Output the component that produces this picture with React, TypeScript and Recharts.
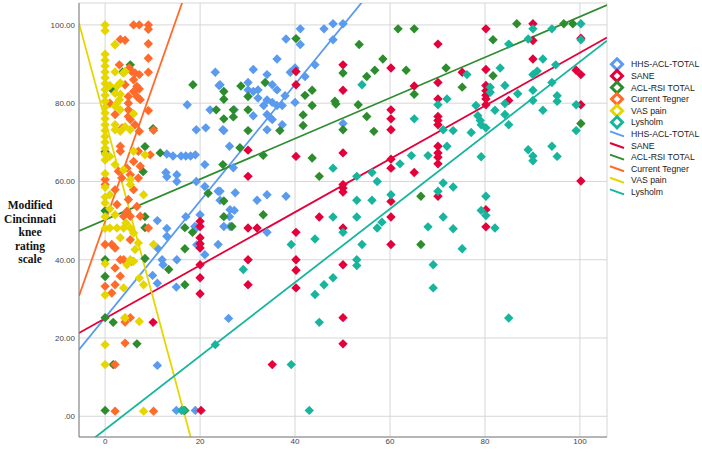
import React from 'react';
import {
  ScatterChart, Scatter, XAxis, YAxis, CartesianGrid, ReferenceLine,
} from 'recharts';

// Series names and colours (markers + fit lines share the colour)
const seriesNames = ['HHS-ACL-TOTAL', 'SANE', 'ACL-RSI TOTAL', 'Current Tegner', 'VAS pain', 'Lysholm'];
const seriesColors = ['#5A9BEF', '#E4003A', '#2D8C2D', '#FF6B2B', '#E6D600', '#17B59E'];

// Linear fit lines: y = intercept + slope * x
const fitIntercepts = [25.2, 25.0, 50.2, 49.7, 75.7, -3.4];
const fitSlopes = [1.49, 0.679, 0.519, 3.45, -4.5, 0.94];

const xTicks = [0, 20, 40, 60, 80, 100];
const yTicks = [0, 20, 40, 60, 80, 100];

// [x, Modified Cincinnati]
const hhs = [
  [11, 13], [15, 1.5], [19, 1.5], [26, 25],
  [11, 50], [13, 48], [17, 51], [11, 43], [13, 46], [12, 40], [12.2, 38.7], [10, 36], [11, 34], [15, 33], [19.3, 48.2], [19.3, 43.8],
  [13, 67], [16, 66.5], [17, 66.5], [18, 66.5], [19, 66.8], [14.3, 66.5], [21, 64.3], [12.8, 62.3], [15.1, 61.7], [15.1, 60], [21, 58.7],
  [23.8, 57.5], [27.4, 57.1], [26.3, 52.8], [20, 51.5], [18.9, 48.5], [23.8, 43.9], [15.1, 40], [21, 41.3], [26.3, 48.5],
  [17.3, 79.6], [19.2, 73.2], [13, 61.2], [19.2, 60],
  [23.2, 87.9], [24, 84.5], [22.1, 78.3], [21.2, 73.7], [25, 73], [26.2, 69],
  [41.1, 99], [46.1, 99], [48, 100.3], [50.1, 100.3], [38.1, 96.4], [41.1, 95], [48, 96.2], [36.2, 91.3], [31.2, 88.6], [40, 89],
  [39, 87.9], [44.2, 89.8], [42.1, 86.8], [34.1, 87.3], [30.1, 85.3], [35.2, 84.7], [24.2, 84.7], [30.1, 83.4], [31.2, 83],
  [32.2, 83.4], [36.2, 83.4], [37.9, 81.9], [32.2, 81.3], [34.1, 80.8], [35.2, 80.2], [36.2, 79.4], [37.3, 79.4], [33.4, 79.4],
  [40, 80.2], [27.2, 78.3], [31.2, 76.8], [34.1, 77.1], [34.8, 76.3], [35.2, 75.8], [37.3, 74.5], [24.8, 73.2], [34.1, 73.2],
  [50.1, 74.8],
  [27, 63.5], [34.1, 56.6], [32, 55.2], [38.1, 56.2], [27.2, 52.6], [26.2, 51], [25, 48.5], [34.1, 47], [24.2, 57.5], [24.2, 55.2],
];

const sane = [
  [10.1, 24], [20.2, 1.5], [20, 49.8], [20, 48.5], [20, 45.6], [20, 44.1], [20, 43], [20, 38.7], [20, 35.4], [20, 31.3],
  [40.2, 88.1], [40.2, 84.7], [50.1, 89.8], [50.1, 83.3], [60.2, 89], [60.2, 78.3], [60.2, 76], [60.2, 73.2], [65.1, 84.4], [30.1, 68],
  [40.2, 66.4], [50.1, 67.3], [30.1, 61.3], [50.1, 59.2], [50.1, 58.3], [50.1, 57.3], [60.2, 65.7], [60.2, 63.4], [65.1, 62.3],
  [60.2, 54.9], [60.2, 50.9], [45.1, 50.9], [30.1, 48.1], [32, 48.1], [40.2, 47], [50.1, 48.1], [60.2, 43.9], [30.1, 40], [40.2, 40],
  [40.2, 37.3], [50.1, 38.7], [30.1, 33.6], [40.2, 32.8],
  [35.2, 13.2], [50.1, 25.2], [50.1, 18.5],
  [80.2, 99], [90.1, 100.3], [90.1, 96], [100.2, 96.6], [70.1, 95.1], [90.1, 91.3], [80.2, 88.6], [75.2, 87.9], [70.1, 85.3],
  [99.2, 88.4], [100.2, 87.3], [80.2, 84.5], [80.2, 83.2], [80.2, 82], [80.2, 81.1], [80.2, 79.6], [70.1, 81.1], [70.1, 76.6],
  [70.1, 75.6], [70.1, 74.5], [85, 80.7], [100.2, 79.6], [70.1, 69],
  [70.1, 67.3], [70.1, 66.2], [70.1, 64.5], [70.1, 56.2], [80.2, 52.8], [80.2, 48.4], [100.2, 60.1],
];

const aclRsi = [
  [0, 1.5], [1.7, 24], [6.7, 18.5], [1.7, 13.2], [16.8, 1.5], [0, 25.2],
  [0, 40], [0, 35.7], [8.4, 51], [8.4, 48.2], [8.4, 40.3], [13.4, 37.5], [16.8, 33.6], [16.8, 48.2], [18.4, 47], [16.8, 42.8],
  [5.3, 89.8], [3.7, 88], [1.7, 83.2], [10.1, 73.5], [8.4, 68.9], [11.6, 67.3], [8, 62.5], [0, 67.6], [18.5, 84.7], [0, 52.5],
  [24.8, 64.3], [21.7, 57], [25, 55], [25, 51], [26.7, 48.5],
  [25, 83], [25, 81], [23.4, 78.3], [27, 78.3], [25, 76],
  [40.2, 96.5], [28.6, 84.4], [30.1, 81.7], [33.7, 85.3], [30.1, 78.3], [43.6, 83.3], [42.1, 82], [27, 76.5], [30.1, 73],
  [36.8, 73], [41.7, 77], [41.7, 74.3], [43.6, 79.4], [48.4, 80.5], [48.6, 79.8], [50.1, 73.2], [50.1, 87.7], [53.5, 95],
  [53.3, 79.6], [55.1, 76.6], [55.1, 86.8], [56.8, 88.4], [58.5, 91.3], [56.6, 72.8], [61.7, 99], [65.1, 99], [63.4, 88.4],
  [65.1, 82.3], [28.4, 68.6],
  [33.3, 66.7], [43.6, 66], [45.1, 61.3], [33.3, 51.5], [66.5, 56.2], [66.5, 43.9],
  [86.7, 100.3], [96.6, 100.3], [98.5, 100.3], [81.7, 96.2], [71.8, 89], [75.2, 84.1], [81.7, 87], [100.2, 74.8],
];

const tegner = [
  [6, 100], [7.2, 100], [9.1, 100], [9.1, 98.9], [3.2, 96.3], [4.2, 96.1], [9.1, 95.2], [9.1, 91.5], [9.1, 87.9], [3, 89.8],
  [5.1, 89], [5.6, 88.1], [6.3, 87.7], [7.2, 87.3], [6, 86], [4.2, 84.7], [6.7, 84.3], [7.2, 83.6], [6, 83], [6.7, 81.7],
  [7.4, 80.9], [1, 80], [4.9, 81.7], [4.9, 80], [4.9, 78.3], [2.1, 77.1], [9.1, 78.1], [4.9, 76.6], [5.3, 75.8], [6.3, 74.5],
  [3.6, 73.7], [7.2, 72.8], [10.2, 73.1], [3.2, 69],
  [3.2, 67.7], [7, 67.7], [9.5, 66.8], [6, 65.1], [4.6, 63.4], [7.4, 63.9], [2.8, 62.6], [5.3, 61.7], [7, 60.9], [3.5, 60.9],
  [0, 60.5], [0, 59.2], [2.1, 57.9], [6, 57.9], [4.9, 55.4], [2.5, 54.1], [6.7, 53.6], [4.6, 52.4],
  [3.9, 51.1], [5.3, 51.1], [7.4, 51.1], [9.1, 48.1], [0, 43.9], [1.4, 43.9], [2.1, 43], [5.3, 45.1], [3.2, 40], [3.9, 40],
  [5.6, 39.6], [2.1, 37.9], [3.2, 35.8], [0, 33.2], [2.1, 33.6], [1.4, 31.5], [4.2, 25.1], [5.3, 25.2], [4.2, 24.1],
  [4.2, 18.7], [2.1, 13.2], [2.1, 1.3], [10.2, 1.3],
];

const vasPain = [
  [0, 100], [0, 98.5], [0, 92.5], [0, 91], [0, 89.5], [0, 88], [0, 86.5], [0, 85], [0, 83.5], [0, 82], [0, 80.5], [0, 79],
  [0, 77.5], [0, 76], [0, 74.5], [0, 73], [0, 71.5], [0, 70], [0, 68.5], [0, 67], [0, 65.5], [0, 62], [0, 58.5], [0, 56],
  [0, 54.5], [0, 51], [0, 48], [0, 39], [0, 31], [0, 18.3], [0, 13.2],
  [2.1, 95], [2.1, 94.9], [4.2, 88.1], [2.1, 88], [3.2, 85.2], [1, 84.5], [2.5, 84.3], [2.1, 82.5], [3.2, 82.3], [3, 80.9],
  [2.5, 80], [2.1, 79.2], [3.2, 78.3], [6, 77.3], [2.1, 74.5], [2.1, 73.2], [3.2, 72.8], [4.2, 74], [5.3, 73.2], [3.9, 87.7],
  [1, 66.4], [6, 67.7], [8.4, 66.8], [2.1, 64.3], [5.3, 60.5], [5.3, 59.2], [8.1, 56.6], [3.9, 63], [1, 56.6], [1, 53], [2.1, 51.5],
  [8.1, 1.3], [4.2, 25.1], [7.2, 24.2], [8.1, 33.6], [7.2, 35.3], [3.9, 32.8], [5.3, 40], [6, 39.6], [4.6, 38.7], [6.3, 42.6],
  [10.2, 43.9], [7, 44.3], [3.2, 45.6], [1, 48.1], [2.5, 48.1], [3.9, 48.1], [5.3, 48.1], [4.4, 49.4], [6, 46.8],
];

const lysholm = [
  [16.1, 1.5], [16.5, 1.5], [23.2, 18.3], [39.2, 13.2], [45.1, 24], [43, 1.5],
  [48, 63.4], [53, 61.3], [56.2, 62.3], [57.3, 60], [62.1, 64.5], [64.5, 66.6], [53, 55.2], [56.2, 55.2], [60.2, 56.6], [48, 50.9],
  [53, 50.9], [58.3, 49.6], [57.3, 48.1], [50.1, 47], [44.2, 45.3], [39.2, 43.9], [54.1, 43.9], [53, 40], [53, 38.5], [29.1, 37.5],
  [48, 35.4], [46.1, 33.6], [44.2, 31.1],
  [54.1, 84.7], [65.1, 76],
  [90.1, 99], [100.2, 100.3], [94.1, 99], [100.2, 96.2], [89.1, 96.4], [85, 95.1], [92.2, 91.3], [94.9, 89.8], [83.2, 89],
  [76.2, 87.3], [90.1, 87.3], [91, 88.2], [94.1, 85.3], [81.1, 84.1], [81.1, 82.8], [84.2, 84.5], [86.9, 82.4], [90.1, 83.3],
  [90.1, 80.7], [95.2, 81.9], [95.2, 80.5], [72, 81.1], [70.1, 79.6], [78.1, 79.4], [84.2, 79.9], [82.1, 78.2], [92.2, 78.2],
  [99.2, 79.6], [78.5, 76.8], [79, 75.6], [79.2, 74.5], [80.2, 73.7], [84.2, 77.1], [85, 74.5], [71.2, 73.2], [73.3, 73],
  [77.1, 72.5], [99.2, 73], [72, 69], [94.1, 69], [89.1, 68.1],
  [68, 66.6], [79.2, 66.3], [90.1, 66.5], [90.1, 65.3], [95.2, 66.4], [71.2, 59.6], [73.3, 58.6], [70.1, 57.5], [80.2, 56.2],
  [79.2, 52.6], [80.2, 51.3], [71.2, 50.9], [68, 48.4], [73.3, 47.9], [82.1, 48.1], [75.2, 42.8], [69.1, 38.7], [69.1, 32.8],
  [85, 25.1],
];

const seriesData = [hhs, sane, aclRsi, tegner, vasPain, lysholm];

const X_DOMAIN: [number, number] = [-5.5, 105.7];
const Y_DOMAIN: [number, number] = [-5.3, 105.6];

const toPoints = (arr: number[][]) => arr.map(([x, y]) => ({ x, y }));

const Diamond = (props: any) => {
  const { cx, cy, fill } = props;
  const r = 4.7;
  return <path d={`M${cx},${cy - r}L${cx + r},${cy}L${cx},${cy + r}L${cx - r},${cy}Z`} fill={fill} />;
};

// multi-line bold serif axis title, centred left of the tick labels
const YTitle = () => {
  const lines = ['Modified', 'Cincinnati', 'knee', 'rating', 'scale'];
  return (
    <text x={30} y={209} textAnchor="middle" fontFamily="'Liberation Serif', 'Times New Roman', serif"
      fontWeight="bold" fontSize={11.5} fill="#111">
      {lines.map((l, i) => (
        <tspan key={l} x={30} dy={i === 0 ? 0 : 13.6}>{l}</tspan>
      ))}
    </text>
  );
};

const fmtY = (v: number) => (v === 0 ? '.00' : v.toFixed(2));

const LegendBox = () => {
  const rowH = 11.6;
  const top = 64.3;
  return (
    <svg width={102} height={160} style={{ position: 'absolute', left: 600, top: 50 }}>
      <g transform="translate(-600,-50)">
        {seriesNames.map((n, i) => {
          const cy = top + i * rowH;
          return (
            <g key={'m' + n}>
              <path d={`M617,${cy - 5.5}L622.5,${cy}L617,${cy + 5.5}L611.5,${cy}Z`} fill="#fff"
                stroke={seriesColors[i]} strokeWidth={3} />
              <text x={631} y={cy + 3} fontSize={8.7} fontFamily="Arial, 'Liberation Sans', sans-serif" fill="#222">{n}</text>
            </g>
          );
        })}
        {seriesNames.map((n, i) => {
          const cy = top + (i + 6) * rowH;
          return (
            <g key={'l' + n}>
              <line x1={610} y1={cy - 2.5} x2={624} y2={cy + 2.5} stroke={seriesColors[i]} strokeWidth={2} />
              <text x={631} y={cy + 3} fontSize={8.7} fontFamily="Arial, 'Liberation Sans', sans-serif" fill="#222">{n}</text>
            </g>
          );
        })}
      </g>
    </svg>
  );
};

export default function App() {
  return (
    <div style={{ position: 'absolute', left: 0, top: 0, width: 702, height: 452, background: '#fff' }}>
      <ScatterChart width={702} height={452} margin={{ top: 3, right: 95, bottom: 0, left: 0 }}>
        <CartesianGrid stroke="#d6d6d6" strokeWidth={1} />
        <XAxis type="number" dataKey="x" domain={X_DOMAIN} ticks={xTicks} allowDataOverflow
          height={15} stroke="#808080" tickLine={false} tickSize={0} tickMargin={1}
          tick={{ fontSize: 8, fill: '#444', fontFamily: 'Arial, sans-serif' }} />
        <YAxis type="number" dataKey="y" domain={Y_DOMAIN} ticks={yTicks} allowDataOverflow
          width={79} stroke="#808080" tickLine={false} tickSize={0} tickMargin={4} tickFormatter={fmtY}
          tick={{ fontSize: 8, fill: '#444', fontFamily: 'Arial, sans-serif' }} label={<YTitle />} />
        {seriesData.map((d, i) => (
          <Scatter key={seriesNames[i]} name={seriesNames[i]} data={toPoints(d)} fill={seriesColors[i]}
            shape={<Diamond />} isAnimationActive={false} />
        ))}
        {seriesNames.map((n, i) => (
          <ReferenceLine key={'fit' + n} ifOverflow="hidden" stroke={seriesColors[i]} strokeWidth={1.8}
            segment={[
              { x: X_DOMAIN[0], y: fitIntercepts[i] + fitSlopes[i] * X_DOMAIN[0] },
              { x: X_DOMAIN[1], y: fitIntercepts[i] + fitSlopes[i] * X_DOMAIN[1] },
            ]} />
        ))}
      </ScatterChart>
      <LegendBox />
    </div>
  );
}
